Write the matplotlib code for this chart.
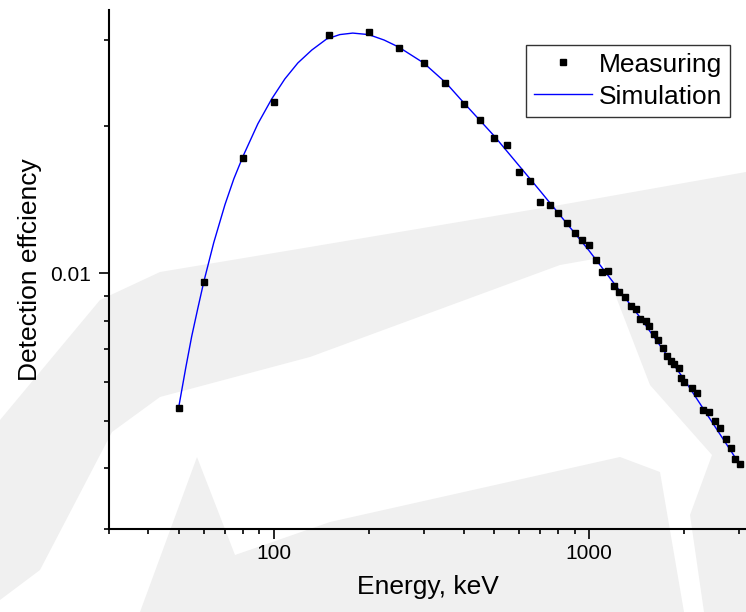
import matplotlib
matplotlib.use('Agg')
import matplotlib.pyplot as plt
from matplotlib.patches import Polygon
from matplotlib.ticker import NullFormatter

plt.rcParams['font.family'] = ['Liberation Sans', 'DejaVu Sans']

# Measured efficiency points (keV, efficiency)
energy = [50, 60, 80, 100, 150, 200, 250, 300, 350, 400, 450, 500, 550, 600,
          650, 700, 750, 800, 850, 900, 950, 1000, 1050, 1100, 1150, 1200,
          1250, 1300, 1360, 1410, 1450, 1515, 1550, 1610, 1655, 1720, 1770,
          1820, 1860, 1930, 1960, 2000, 2120, 2200, 2300, 2400, 2510, 2600,
          2720, 2820, 2910, 3010]
efficiency = [0.0053, 0.00959, 0.01725, 0.02244, 0.0307, 0.0312, 0.0289,
              0.0270, 0.02454, 0.02223, 0.02062, 0.01895, 0.01833, 0.01615,
              0.01548, 0.01403, 0.01383, 0.01332, 0.01271, 0.01212, 0.01168,
              0.01146, 0.01063, 0.01005, 0.01014, 0.00941, 0.00915, 0.00893,
              0.00856, 0.00844, 0.00806, 0.00798, 0.00779, 0.00751, 0.0073,
              0.00703, 0.00677, 0.00661, 0.00652, 0.0064, 0.0061, 0.00599,
              0.00582, 0.00569, 0.00525, 0.0052, 0.00499, 0.00483, 0.00458,
              0.0044, 0.00417, 0.00408]

# Simulated curve
sim_energy = [50, 52.6, 54.9, 57.4, 60, 64.5, 70, 74.7, 80, 89, 98.5, 108.4,
              119.2, 132, 147, 162, 178, 200, 224, 249, 299, 352, 401, 500,
              699, 1000, 1452, 2003, 3016]
sim_eff = [0.005354, 0.006429, 0.007438, 0.008483, 0.009631, 0.011568,
           0.013831, 0.015625, 0.017412, 0.020238, 0.022759, 0.025003,
           0.026958, 0.028652, 0.030171, 0.030816, 0.031034, 0.030816,
           0.03003, 0.029059, 0.026958, 0.024537, 0.022336, 0.019127,
           0.01477, 0.011141, 0.008132, 0.006075, 0.004057]

xticks_major = [100, 1000]
xticks_minor = [30, 40, 50, 60, 70, 80, 90, 200, 300, 400, 500, 600, 700,
                800, 900, 2000, 3000]
yticks_major = [0.01]
yticks_minor = [0.003, 0.004, 0.005, 0.006, 0.007, 0.008, 0.009, 0.02, 0.03]

W, H = 746, 612
fig = plt.figure(figsize=(W / 100, H / 100), dpi=100)

# faint watermark shapes in the background (pixel outlines, top-left origin)
watermark = [
    [(0, 420), (100, 300), (160, 272), (310, 247), (560, 205), (746, 172),
     (746, 232), (560, 265), (310, 357), (160, 397), (112, 432), (40, 570),
     (0, 600)],
    [(140, 612), (197, 457), (235, 555), (330, 522), (620, 457), (660, 472),
     (684, 612)],
    [(598, 250), (650, 232), (746, 205), (746, 612), (704, 612), (690, 515),
     (712, 455), (650, 385)],
]
for shape in watermark:
    pts = [(px / W, 1 - py / H) for px, py in shape]
    fig.patches.append(Polygon(pts, closed=True, transform=fig.transFigure,
                               facecolor='#f0f0f0', edgecolor='none',
                               zorder=-5))

ax = fig.add_axes([109 / W, 1 - 529 / H, 637 / W, 519 / H])
ax.set_zorder(1)
ax.patch.set_alpha(0)

sim_line, = ax.plot(sim_energy, sim_eff, color='#0000ff', lw=1.0,
                    label='Simulation', zorder=2)
meas, = ax.plot(energy, efficiency, linestyle='none', marker='s', ms=4.4,
                color='black', label='Measuring', zorder=3)

ax.set_xscale('log')
ax.set_yscale('log')
ax.set_xlim(30, 3150)
ax.set_ylim(0.003, 0.0346)

ax.set_xticks(xticks_major, ['100', '1000'])
ax.set_xticks(xticks_minor, minor=True)
ax.set_yticks(yticks_major, ['0.01'])
ax.set_yticks(yticks_minor, minor=True)
ax.xaxis.set_minor_formatter(NullFormatter())
ax.yaxis.set_minor_formatter(NullFormatter())

ax.tick_params(which='major', length=7, width=1.2, labelsize=15,
               direction='out')
ax.tick_params(which='minor', length=3.3, width=1.2, direction='out')
ax.tick_params(axis='x', which='major', pad=3.5)
ax.tick_params(axis='y', which='major', pad=6)

for side in ['top', 'right']:
    ax.spines[side].set_visible(False)
for side in ['bottom', 'left']:
    ax.spines[side].set_linewidth(1.5)

ax.set_xlabel('Energy, keV', fontsize=19, labelpad=9)
ax.set_ylabel('Detection effciency', fontsize=19, labelpad=6)

leg = ax.legend([meas, sim_line], ['Measuring', 'Simulation'],
                loc='upper right', bbox_to_anchor=(0.975, 0.933),
                borderaxespad=0, fontsize=19, numpoints=1, handlelength=2.2,
                handletextpad=0.25, labelspacing=0.3, borderpad=0.3,
                fancybox=False, framealpha=1, edgecolor='#333333')
leg.get_frame().set_linewidth(1.0)

fig.savefig('out.png', dpi=100)
